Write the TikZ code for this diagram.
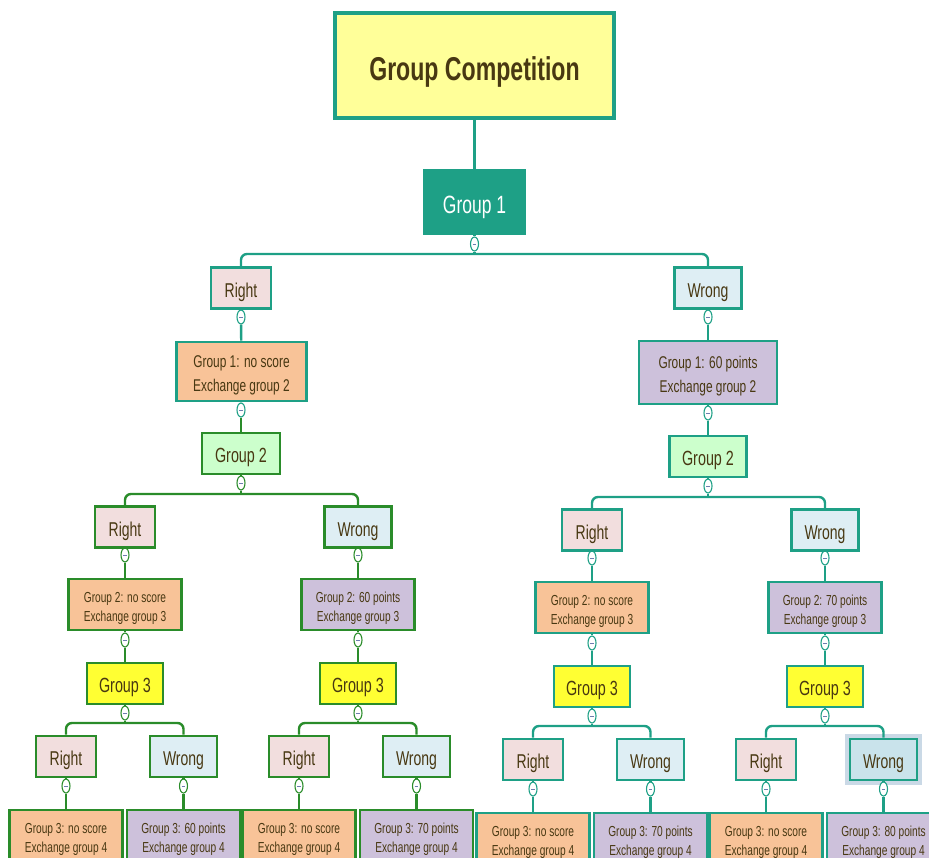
\documentclass[tikz,border=0pt]{standalone}
\usepackage{fontspec}
\setmainfont{Liberation Sans}[FakeStretch=0.7]
\usetikzlibrary{shapes.geometric}
\definecolor{tealc}{RGB}{30,160,134}
\definecolor{grnc}{RGB}{42,140,42}
\definecolor{ink}{RGB}{72,56,18}
\definecolor{titlec}{RGB}{255,255,153}
\definecolor{rightc}{RGB}{242,222,222}
\definecolor{wrongc}{RGB}{222,238,244}
\definecolor{orangec}{RGB}{248,195,152}
\definecolor{purplec}{RGB}{205,193,219}
\definecolor{g2c}{RGB}{204,255,204}
\definecolor{g3c}{RGB}{255,255,51}
\definecolor{pickc}{RGB}{201,227,235}
\definecolor{glowc}{RGB}{202,217,230}
\definecolor{minusc}{RGB}{110,125,175}
\newcommand{\twoline}[2]{\raisebox{-7.5pt}[0pt][0pt]{\begin{tabular}{@{}c@{}}#1\\#2\end{tabular}}}
\tikzset{
  box/.style={draw=tealc, line width=2.6pt, text=ink, align=center, inner sep=0pt, minimum height=41pt},
  one/.style={text height=#1, text depth=0pt},
  rt/.style={box, one=18pt, fill=rightc, minimum width=60pt, font=\fontsize{20}{24}\selectfont},
  wr/.style={box, one=18pt, fill=wrongc, minimum width=67pt, font=\fontsize{20}{24}\selectfont},
  grp/.style={box, one=18.5pt, fill=g2c, font=\fontsize{20.5}{24}\selectfont},
  two/.style={box, font=\fontsize{17}{24}\selectfont},
  score/.style={box, minimum width=113pt, minimum height=51pt, font=\fontsize{14.5}{19}\selectfont},
  tg/.style={ellipse, draw=tealc, fill=white, line width=1.1pt, minimum width=8pt, minimum height=14pt, inner sep=0pt,
    path picture={\draw[minusc, line width=0.8pt] ([xshift=-1.8pt]path picture bounding box.center) -- ([xshift=1.8pt]path picture bounding box.center);}},
  link/.style={draw=tealc, line width=2.4pt},
  plain/.style={},
  picked/.style={fill=pickc, preaction={draw=glowc, line width=10pt, rounded corners=5pt}},
}
\begin{document}
\begin{tikzpicture}[x=1pt,y=-1pt]
\useasboundingbox (0,0) rectangle (929,857);
\clip (0,0) rectangle (929,857);
\node[box, one=29pt, fill=titlec, line width=4pt, minimum width=279pt, minimum height=105pt, font=\fontsize{33}{40}\bfseries\selectfont] (title) at (474.5,65.5) {Group Competition};
\node[box, one=22pt, fill=tealc, text=white, minimum width=100pt, minimum height=64pt, font=\fontsize{25}{30}\selectfont] (g1) at (474.5,202) {Group 1};
\node[tg] (g1t) at (474.5,244) {};
\coordinate (g1bar) at (474.5,254);
\draw[link] (title) -- (g1) -- (g1t) -- (g1bar);
\node[rt] (r1) at (241,288) {Right};
\node[wr] (w1) at (708,288) {Wrong};
\draw[link, rounded corners=6pt] (r1) |- (g1bar) -| (w1);
% right answer
\node[tg] (r1t) at (241,317) {};
\node[two, fill=orangec, minimum width=130pt, minimum height=59pt] (o1) at (241.5,371.5) {\twoline{Group 1: no score}{Exchange group 2}};
\node[tg] (o1t) at (241,410) {};
\node[grp, draw=grnc, minimum width=78pt] (g2a) at (241,453.5) {Group 2};
\node[tg, draw=grnc] (g2at) at (241,483) {};
\coordinate (g2abar) at (241,494);
\node[rt, draw=grnc] (r2a) at (125,527) {Right};
\node[wr, draw=grnc] (w2a) at (358,527) {Wrong};
\draw[link] (r1) -- (r1t) -- (o1) -- (o1t);
\draw[link, draw=grnc] (o1t) -- (g2a) -- (g2at) -- (g2abar);
\draw[link, draw=grnc, rounded corners=6pt] (r2a) |- (g2abar) -| (w2a);
% wrong answer
\node[tg] (w1t) at (708,317) {};
\node[two, fill=purplec, minimum width=138pt, minimum height=63pt] (p1) at (708,372.5) {\twoline{Group 1: 60 points}{Exchange group 2}};
\node[tg] (p1t) at (708,413) {};
\node[grp, minimum width=77pt] (g2b) at (708,456.5) {Group 2};
\node[tg] (g2bt) at (708,486) {};
\coordinate (g2bbar) at (708,497);
\node[rt] (r2b) at (592,530) {Right};
\node[wr] (w2b) at (825,530) {Wrong};
\draw[link] (w1) -- (w1t) -- (p1) -- (p1t) -- (g2b) -- (g2bt) -- (g2bbar);
\draw[link, rounded corners=6pt] (r2b) |- (g2bbar) -| (w2b);
% group 3 rounds
\foreach \n/\x/\dy/\c/\p/\f/\s/\sb/\hl in {
  a/125/0/grnc/r2a/orangec/no score/60 points/plain,
  b/358/0/grnc/w2a/purplec/60 points/70 points/plain,
  c/592/3/tealc/r2b/orangec/no score/70 points/plain,
  d/825/3/tealc/w2b/purplec/70 points/80 points/picked}{
  \node[tg, draw=\c] (pt\n) at (\x,555+\dy) {};
  \node[score, draw=\c, fill=\f] (s\n) at (\x,604.5+\dy) {\twoline{Group 2: \s}{Exchange group 3}};
  \node[tg, draw=\c] (st\n) at (\x,640+\dy) {};
  \node[grp, draw=\c, fill=g3c, minimum width=76pt] (g3\n) at (\x,683.5+\dy) {Group 3};
  \node[tg, draw=\c] (g3t\n) at (\x,713+\dy) {};
  \coordinate (g3bar\n) at (\x,723+\dy);
  \node[rt, draw=\c] (r3\n) at (\x-59,756.5+\dy) {Right};
  \node[wr, draw=\c, \hl] (w3\n) at (\x+58.5,756.5+\dy) {Wrong};
  \node[tg, draw=\c] (r3t\n) at (\x-59,786+\dy) {};
  \node[tg, draw=\c] (w3t\n) at (\x+58.5,786+\dy) {};
  \node[score, draw=\c, fill=orangec] (x\n) at (\x-59,835.5+\dy) {\twoline{Group 3: no score}{Exchange group 4}};
  \node[score, draw=\c, fill=purplec] (y\n) at (\x+58.5,835.5+\dy) {\twoline{Group 3: \sb}{Exchange group 4}};
  \draw[link, draw=\c] (\p) -- (pt\n) -- (s\n) -- (st\n) -- (g3\n) -- (g3t\n) -- (g3bar\n);
  \draw[link, draw=\c, rounded corners=6pt] (r3\n) |- (g3bar\n) -| (w3\n);
  \draw[link, draw=\c] (r3\n) -- (r3t\n) -- (x\n);
  \draw[link, draw=\c] (w3\n) -- (w3t\n) -- (y\n);
}
\end{tikzpicture}
\end{document}
